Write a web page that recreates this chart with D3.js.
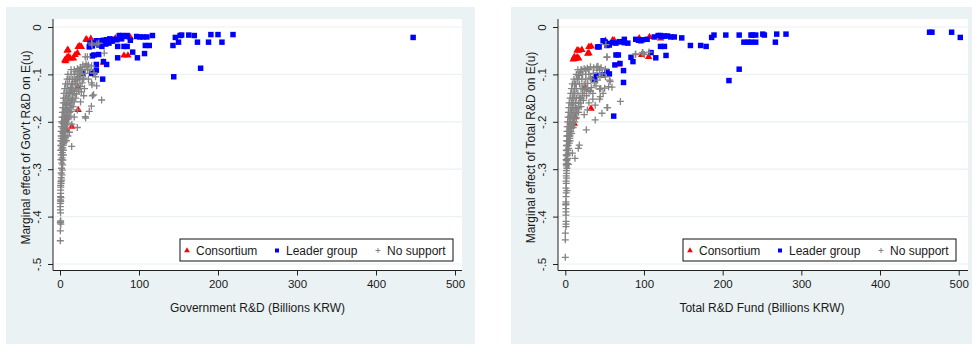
<!DOCTYPE html>
<html>
<head>
<meta charset="utf-8">
<script src="https://cdn.jsdelivr.net/npm/d3@7"></script>
<style>
  body { margin: 0; background: #fff; }
  text { font-family: "Liberation Sans", Arial, sans-serif; fill: #1a1a1a; }
</style>
</head>
<body>
<div id="chart"></div>
<script>
// values, [x, marginal effect]
const govConsortium = [
  [6,-0.070],[8,-0.068],[9,-0.064],[11,-0.063],[13,-0.066],[9,-0.050],[10,-0.048],[7,-0.072],
  [19,-0.059],[22,-0.055],[17,-0.066],[23,-0.042],[25,-0.040],[27,-0.042],
  [33,-0.026],[39,-0.025],[34,-0.027],[70,-0.024],[89,-0.022],[81,-0.060],[86,-0.060],
  [55,-0.075],[23,-0.127],[23,-0.175],[15,-0.210],[8,-0.217]
];
const govLeader = [
  [447,-0.022],[219,-0.016],[200,-0.016],[191,-0.016],[205,-0.032],[188,-0.032],[174,-0.032],
  [170,-0.018],[163,-0.017],[154,-0.017],[152,-0.018],[146,-0.022],[150,-0.032],[143,-0.039],
  [178,-0.087],[144,-0.105],[117,-0.018],[110,-0.021],[105,-0.021],[101,-0.021],[97,-0.020],
  [113,-0.039],[108,-0.039],[107,-0.056],[98,-0.065],[92,-0.053],[89,-0.028],[85,-0.041],
  [81,-0.041],[85,-0.018],[79,-0.018],[75,-0.018],[72,-0.027],[68,-0.026],[73,-0.065],
  [73,-0.041],[63,-0.025],[59,-0.027],[55,-0.028],[51,-0.029],[46,-0.029],[59,-0.079],
  [55,-0.073],[54,-0.110],[49,-0.058],[46,-0.079],[46,-0.091],[44,-0.095],[43,-0.059],
  [41,-0.061],[40,-0.098],[37,-0.042],[41,-0.040],[38,-0.034],[29,-0.098],[45,-0.034],
  [49,-0.038],[53,-0.041],[58,-0.036],[66,-0.030],[78,-0.025],[83,-0.020],[62,-0.034]
];
const govNone = [
  [0.4,-0.451],[0.4,-0.430],[0.4,-0.413],[0.9,-0.409],[0.5,-0.411],[0.4,-0.386],[0.4,-0.379],
  [0.5,-0.372],[0.5,-0.365],[0.6,-0.358],[0.8,-0.351],[0.8,-0.344],[1.0,-0.338],[0.9,-0.334],
  [1.4,-0.330],[1.2,-0.326],[2.1,-0.323],[1.6,-0.318],[2.5,-0.312],[1.5,-0.308],[3.0,-0.302],
  [2.0,-0.298],[3.4,-0.291],[2.2,-0.287],[3.8,-0.281],[2.6,-0.276],[4.2,-0.270],[3.0,-0.265],
  [4.2,-0.260],[2.8,-0.255],[4.6,-0.249],[3.2,-0.245],[5.8,-0.243],[5.1,-0.238],[2.5,-0.235],
  [6.5,-0.233],[5.9,-0.228],[3.4,-0.224],[7.2,-0.222],[6.8,-0.217],[4.0,-0.214],[8.8,-0.213],
  [7.6,-0.207],[3.8,-0.204],[9.5,-0.203],[8.4,-0.196],[5.0,-0.198],[11,-0.194],[9.7,-0.186],
  [5.5,-0.190],[12.5,-0.188],[11,-0.175],[6.0,-0.180],[14,-0.178],[7.2,-0.172],[12.7,-0.165],
  [16.5,-0.168],[8.0,-0.163],[14.3,-0.154],[18,-0.158],[9.0,-0.155],[20,-0.150],[16,-0.143],
  [10,-0.146],[21,-0.141],[17.7,-0.133],[11.5,-0.138],[24,-0.136],[19.4,-0.122],[13,-0.128],
  [26,-0.126],[21.9,-0.112],[14.5,-0.120],[28,-0.118],[24.5,-0.101],[16,-0.110],[30,-0.108],
  [27.4,-0.092],[18,-0.100],[32,-0.098],[31.6,-0.084],[20,-0.094],[35,-0.090],[35.9,-0.080],
  [22,-0.088],[40,-0.082],[26,-0.085],[29,-0.080],[33,-0.078],
  [14.8,-0.252],[21.9,-0.212],[32.5,-0.192],[37,-0.178],[39.7,-0.167],[41,-0.145],[52.7,-0.154],
  [46.4,-0.124],[34.6,-0.063],[40,-0.034],[49,-0.034],[56,-0.055],[34,-0.083],[38,-0.091],
  [36,-0.110],[40,-0.118],[31,-0.130],[27,-0.137],[43,-0.097],[45,-0.105],[30,-0.145],
  [26,-0.158],[22,-0.175],[18,-0.190],[15,-0.205],[12,-0.222],[10,-0.230],[8,-0.240],
  [1.0,-0.368],[1.2,-0.360],[0.7,-0.392],[1.1,-0.416],[32,-0.063],[40.5,-0.038],[46.8,-0.036],
  [32,-0.189],[42.6,-0.143],[40.5,-0.122],[6,-0.205],[9,-0.180],[12,-0.160],[15,-0.135],
  [19,-0.115],[23,-0.105],[4.5,-0.222],[7,-0.195],[3.5,-0.255],[2,-0.280],
  [10,-0.100],[14,-0.100],[22,-0.100],[26,-0.100],[9,-0.110],[12,-0.110],[20,-0.110],[25,-0.110],
  [29,-0.110],[7,-0.120],[10,-0.120],[16,-0.120],[22,-0.120],[6,-0.130],[9,-0.130],[14,-0.130],
  [20,-0.130],[23,-0.130],[5,-0.140],[8,-0.140],[12,-0.140],[18,-0.140],[4.5,-0.150],[7,-0.150],
  [11,-0.150],[16,-0.150],[4,-0.160],[6,-0.160],[10,-0.160],[14,-0.160],[3.5,-0.170],[5,-0.170],
  [9,-0.170],[13,-0.170],[3,-0.180],[4.5,-0.180],[8,-0.180],[12,-0.180],[2.5,-0.190],[4,-0.190],
  [7,-0.190],[10,-0.190],[2,-0.200],[3.5,-0.200],[6.5,-0.200],[1.8,-0.210],[3,-0.210],[5.5,-0.210],
  [1.5,-0.220],[2.8,-0.220],[5,-0.220],[1.5,-0.230],[4,-0.230],[1.2,-0.240],[2,-0.240],[4,-0.240],
  [1,-0.250],[2,-0.250],[1,-0.260],[2,-0.260],[1.5,-0.270],[1.2,-0.280],[14,-0.090],[18,-0.090],
  [24,-0.090],[28,-0.090]
];

const totConsortium = [
  [11.5,-0.063],[12.8,-0.067],[15,-0.064],[17,-0.066],[10,-0.068],[15,-0.049],[17,-0.050],
  [21,-0.048],[28.5,-0.056],[30,-0.055],[30,-0.042],[33,-0.041],[51,-0.029],[60,-0.028],
  [62,-0.028],[94,-0.024],[107,-0.021],[121,-0.024],[97,-0.059],[106,-0.063],[68,-0.079],
  [32.7,-0.172],[12.8,-0.190],[11.4,-0.204],[25,-0.128]
];
const totLeader = [
  [463,-0.011],[466,-0.011],[491,-0.011],[502,-0.022],[280.5,-0.015],[268.7,-0.015],[267,-0.032],
  [253,-0.017],[251,-0.015],[242,-0.017],[238,-0.017],[236,-0.017],[242,-0.032],[236,-0.032],
  [232,-0.032],[227,-0.032],[221,-0.017],[221,-0.089],[208,-0.113],[204,-0.017],[189,-0.017],
  [186,-0.022],[179,-0.041],[172,-0.039],[159,-0.039],[148,-0.023],[138.5,-0.021],[134,-0.021],
  [130,-0.019],[126,-0.019],[121,-0.018],[118,-0.018],[128,-0.060],[126,-0.041],[121,-0.041],
  [115,-0.065],[109,-0.054],[104,-0.026],[98,-0.027],[93,-0.028],[89.5,-0.026],[86,-0.073],
  [83.5,-0.064],[74,-0.092],[74,-0.117],[75,-0.026],[72,-0.031],[75,-0.033],[68.6,-0.031],
  [64.4,-0.034],[60,-0.033],[69.5,-0.077],[67.4,-0.059],[64.4,-0.059],[63,-0.080],[61.5,-0.188],
  [56,-0.099],[53,-0.094],[48,-0.101],[39,-0.102],[37,-0.110],[43,-0.042],[41,-0.042],
  [48,-0.029],[51,-0.032],[55,-0.035],[53,-0.039],[56,-0.038],[79.5,-0.034],[113,-0.021],
  [96,-0.029],[123,-0.020]
];
const totNone = [
  [0,-0.486],[0,-0.449],[0,-0.435],[0.8,-0.421],[0.8,-0.416],[0.8,-0.397],[0.8,-0.390],
  [0.8,-0.383],[0.6,-0.375],[0.8,-0.373],[0.8,-0.369],[0.9,-0.358],[1.2,-0.350],[0.9,-0.340],
  [1.3,-0.330],[1.0,-0.325],[1.7,-0.319],[1.2,-0.314],[1.7,-0.309],[1.4,-0.303],[2.1,-0.298],
  [1.5,-0.293],[2.5,-0.288],[1.8,-0.282],[3.0,-0.277],[2.0,-0.272],[3.8,-0.266],[2.4,-0.261],
  [4.2,-0.256],[2.6,-0.250],[5.1,-0.245],[3.0,-0.240],[5.9,-0.235],[3.4,-0.230],[6.8,-0.224],
  [3.8,-0.220],[7.6,-0.214],[4.2,-0.210],[8.9,-0.203],[5.0,-0.200],[10.6,-0.193],[5.5,-0.190],
  [12.3,-0.182],[6.3,-0.180],[14.4,-0.172],[7.0,-0.170],[16.5,-0.161],[8.0,-0.160],[19.1,-0.150],
  [9.0,-0.150],[22,-0.140],[10,-0.140],[25,-0.129],[11.5,-0.130],[28.5,-0.119],[13,-0.120],
  [31.8,-0.108],[15,-0.110],[35.6,-0.098],[17,-0.102],[40.3,-0.091],[19,-0.095],[45.4,-0.086],
  [21,-0.090],[50.9,-0.089],[24,-0.088],[28,-0.087],[32,-0.084],[36,-0.086],
  [6,-0.240],[8,-0.225],[10,-0.212],[12,-0.200],[14,-0.192],[17,-0.180],[20,-0.168],[23,-0.155],
  [27,-0.145],[30,-0.135],[33,-0.128],[37,-0.118],[41,-0.112],[44,-0.104],[47,-0.099],
  [26.7,-0.217],[17.8,-0.249],[16.5,-0.256],[12.3,-0.277],[38,-0.196],[46.6,-0.182],[53.8,-0.170],
  [70,-0.157],[59.3,-0.127],[56.3,-0.112],[50,-0.129],[43.6,-0.131],[39,-0.124],[43.6,-0.152],
  [35,-0.152],[41.5,-0.083],[43.6,-0.091],[52.9,-0.064],[51.6,-0.037],[89.5,-0.057],[98,-0.054],
  [106.5,-0.053],[9,-0.266],[4,-0.290],[2,-0.345],[1,-0.410],[53,-0.063],[89,-0.058],[98.8,-0.055],
  [100.4,-0.058],[53,-0.170],[44.5,-0.147],[55,-0.126],[57,-0.115],[51,-0.105],[40,-0.084],
  [4.5,-0.230],[7,-0.205],[9.5,-0.190],[13,-0.170],[18,-0.150],[22,-0.130],
  [14,-0.100],[18,-0.100],[22,-0.100],[26,-0.100],[30,-0.100],[11,-0.110],[16,-0.110],[21,-0.110],
  [26,-0.110],[33,-0.110],[9,-0.120],[12,-0.120],[18,-0.120],[24,-0.120],[8,-0.130],[14,-0.130],
  [20,-0.130],[27,-0.130],[7,-0.140],[12,-0.140],[16,-0.140],[24,-0.140],[6,-0.150],[11,-0.150],
  [14,-0.150],[21,-0.150],[5,-0.160],[10,-0.160],[13,-0.160],[19,-0.160],[4.5,-0.170],[9,-0.170],
  [11,-0.170],[17,-0.170],[4,-0.180],[8,-0.180],[10,-0.180],[15,-0.180],[3.5,-0.190],[7,-0.190],
  [12,-0.190],[3,-0.200],[6.5,-0.200],[9,-0.200],[2.5,-0.210],[5.5,-0.210],[8,-0.210],[2.2,-0.220],
  [5,-0.220],[7,-0.220],[2,-0.230],[6,-0.230],[1.8,-0.240],[4,-0.240],[1.5,-0.250],[3.5,-0.250],
  [1.3,-0.260],[3,-0.260],[1.2,-0.270],[2.5,-0.270],[1,-0.280],[2.2,-0.280],[1,-0.290],[2,-0.290],
  [16,-0.090],[20,-0.090],[26,-0.090],[30,-0.090],[30,-0.160],[35,-0.140],[45,-0.130],[48,-0.140],
  [38,-0.165],[28,-0.175],[32,-0.135],[24,-0.185]
];

const xTicks = [0, 100, 200, 300, 400, 500];
const yTicks = [0, -0.1, -0.2, -0.3, -0.4, -0.5];
const yTickLabels = ['0', '-.1', '-.2', '-.3', '-.4', '-.5'];
const seriesNames = ['Consortium', 'Leader group', 'No support'];

const panels = [
  { bg: [6, 7, 469, 337], plot: [53, 19, 462, 270.5], xr: [60, 455], legendX: 180,
    xTitle: 'Government R&D (Billions KRW)', yTitle: "Marginal effect of Gov't R&D on E(u)",
    series: [govConsortium, govLeader, govNone] },
  { bg: [511, 7, 461, 337], plot: [558, 19, 968, 270.5], xr: [565.3, 958.7], legendX: 683,
    xTitle: 'Total R&D Fund (Billions KRW)', yTitle: 'Marginal effect of Total R&D on E(u)',
    series: [totConsortium, totLeader, totNone] }
];

const colors = ['#ff0000', '#0000ff', '#848484'];
const gridColor = '#eaf2f3';

const svg = d3.select('#chart').append('svg')
  .attr('width', 972)
  .attr('height', 344);

const tri = d3.symbol(d3.symbolTriangle, 24)();
const sq = d3.symbol(d3.symbolSquare, 30)();
const plus = 'M-3.5,0H3.5M0,-3.5V3.5';

function drawMarks(g, data, i, x, y) {
  const sel = g.selectAll('.s' + i)
    .data(data)
    .enter().append('path')
    .attr('class', 's' + i)
    .attr('transform', d => `translate(${x(d[0])},${y(d[1])})`);
  if (i === 0) sel.attr('d', tri).attr('fill', colors[0]);
  else if (i === 1) sel.attr('d', sq).attr('fill', colors[1]);
  else sel.attr('d', plus).attr('fill', 'none').attr('stroke', colors[2]).attr('stroke-width', 1.3);
}

panels.forEach(p => {
  const g = svg.append('g');
  const [px0, py0, px1, py1] = p.plot;

  g.append('rect')
    .attr('x', p.bg[0]).attr('y', p.bg[1])
    .attr('width', p.bg[2]).attr('height', p.bg[3])
    .attr('fill', gridColor);

  g.append('rect')
    .attr('x', px0).attr('y', py0)
    .attr('width', px1 - px0).attr('height', py1 - py0)
    .attr('fill', '#fff');

  const x = d3.scaleLinear().domain([0, 500]).range(p.xr);
  const y = d3.scaleLinear().domain([0, -0.5]).range([27, 264]);

  // gridlines
  g.selectAll('.grid')
    .data(yTicks)
    .enter().append('line')
    .attr('x1', px0).attr('x2', px1)
    .attr('y1', d => y(d)).attr('y2', d => y(d))
    .attr('stroke', gridColor)
    .attr('stroke-width', 1.2);

  // y axis
  const yAxis = g.append('g')
    .attr('transform', `translate(${px0},0)`)
    .call(d3.axisLeft(y).tickValues(yTicks).tickSize(5).tickPadding(4)
      .tickFormat((d, i) => yTickLabels[i]));
  yAxis.select('.domain').attr('d', `M0,${py0}V${py1}`).attr('stroke', '#222');
  yAxis.selectAll('.tick line').attr('stroke', '#222');
  yAxis.selectAll('.tick text')
    .attr('x', 0).attr('dy', 0)
    .attr('transform', 'translate(-12,0) rotate(-90)')
    .attr('text-anchor', 'middle')
    .style('font-size', '11.5px')
    .style('font-family', '"Liberation Sans", Arial, sans-serif')
    .attr('fill', '#1a1a1a');

  // x axis
  const xAxis = g.append('g')
    .attr('transform', `translate(0,${py1})`)
    .call(d3.axisBottom(x).tickValues(xTicks).tickSize(5).tickPadding(4));
  xAxis.select('.domain').attr('d', `M${px0},0H${px1}`).attr('stroke', '#222');
  xAxis.selectAll('.tick line').attr('stroke', '#222');
  xAxis.selectAll('.tick text')
    .style('font-size', '11.5px')
    .style('font-family', '"Liberation Sans", Arial, sans-serif')
    .attr('fill', '#1a1a1a');

  g.append('text')
    .attr('x', (p.xr[0] + p.xr[1]) / 2)
    .attr('y', 312)
    .attr('text-anchor', 'middle')
    .style('font-size', '12px')
    .text(p.xTitle);

  g.append('text')
    .attr('transform', `translate(${px0 - 23},${(27 + 264) / 2 + 2}) rotate(-90)`)
    .attr('text-anchor', 'middle')
    .style('font-size', '12px')
    .text(p.yTitle);

  // marks: consortium first, then leader group, then no support on top
  p.series.forEach((s, i) => drawMarks(g, s, i, x, y));

  // legend
  const lg = g.append('g').attr('transform', `translate(${p.legendX},239)`);
  lg.append('rect')
    .attr('width', 273).attr('height', 22)
    .attr('fill', '#fff').attr('stroke', '#111').attr('stroke-width', 1);
  const itemX = [7, 97, 198];
  seriesNames.forEach((name, i) => {
    const m = lg.append('path')
      .attr('transform', `translate(${itemX[i]},11.5)`);
    if (i === 0) m.attr('d', d3.symbol(d3.symbolTriangle, 14)()).attr('fill', colors[0]);
    else if (i === 1) m.attr('d', d3.symbol(d3.symbolSquare, 16)()).attr('fill', colors[1]);
    else m.attr('d', 'M-2.5,0H2.5M0,-2.5V2.5').attr('stroke', colors[2]).attr('fill', 'none');
    lg.append('text')
      .attr('x', itemX[i] + 9)
      .attr('y', 15.5)
      .style('font-size', '12px')
      .text(name);
  });
});
</script>
</body>
</html>
